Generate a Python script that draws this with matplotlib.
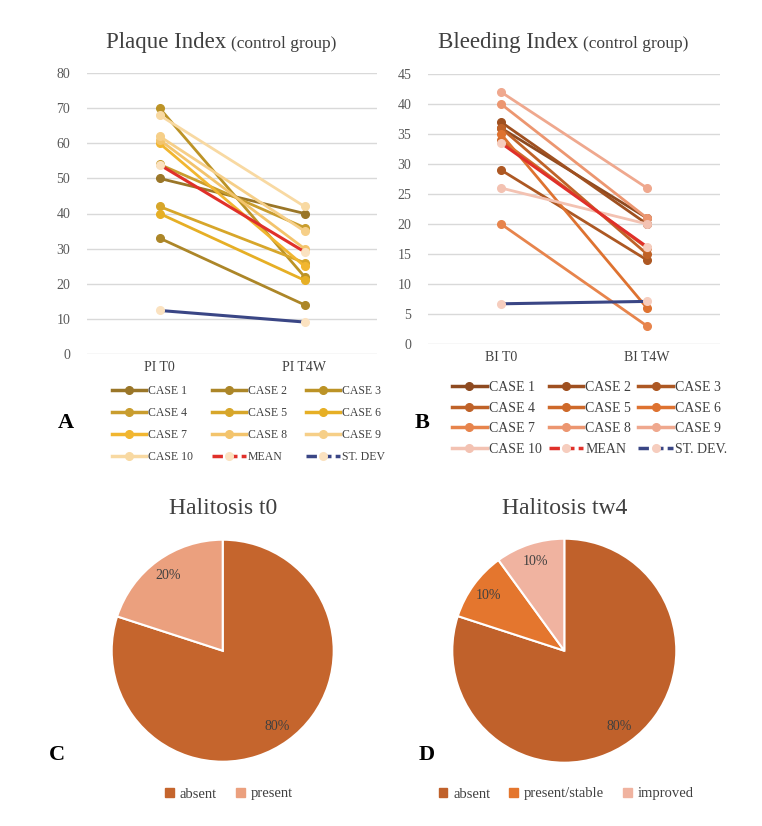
import matplotlib.pyplot as plt
from matplotlib.lines import Line2D
from matplotlib.patches import Patch

plt.rcParams['font.family'] = ['Liberation Serif', 'DejaVu Serif']

# ---- data ----
time_pi = ['PI T0', 'PI T4W']
time_bi = ['BI T0', 'BI T4W']
case_names = ['CASE %d' % i for i in range(1, 11)]

pi_cases = [[50, 40], [33, 14], [70, 22], [54, 36], [42, 26],
            [40, 21], [60, 25], [61, 30], [62, 35], [68, 42]]
pi_mean = [53.9, 29.1]
pi_sd = [12.4, 9.1]

bi_cases = [[36, 21], [37, 20], [29, 14], [36, 15], [34, 16],
            [35, 6], [20, 3], [40, 21], [42, 26], [26, 20]]
bi_mean = [33.5, 16.2]
bi_sd = [6.7, 7.1]

hal_t0_labels = ['absent', 'present']
hal_t0_vals = [80, 20]
hal_t4_labels = ['absent', 'present/stable', 'improved']
hal_t4_vals = [80, 10, 10]

# ---- styles ----
pi_colors = ['#9A7628', '#AC8628', '#BC9326', '#C99D2E', '#D7A62A',
             '#E6AF25', '#F1B630', '#F3C46C', '#F6CF88', '#F8D9A2']
bi_colors = ['#8E4A20', '#9F5020', '#AD5823', '#BF6228', '#CE692A',
             '#DE7230', '#E7844C', '#EC9670', '#EFA88E', '#F3C2B2']
mean_c = '#E0302A'
sd_c = '#3A4685'
W, H = 762, 826
txt = '#404040'
grid_c = '#D9D9D9'

fig = plt.figure(figsize=(W / 100, H / 100), dpi=100)
renderer = fig.canvas.get_renderer()


def rect(l, t, r, b):
    return [l / W, 1 - b / H, (r - l) / W, (b - t) / H]


def line_panel(pos, cases, mean, sd, colors, cats, ylim, yticks, pale):
    ax = fig.add_axes(rect(*pos))
    x = [0, 1]
    for vals, c in zip(cases, colors):
        ax.plot(x, vals, color=c, lw=2, marker='o', ms=5.5, solid_capstyle='round')
    ax.plot(x, mean, color=mean_c, lw=2.2, marker='o', ms=5.5,
            mfc=pale, mec=pale)
    ax.plot(x, sd, color=sd_c, lw=2.2, marker='o', ms=5.5,
            mfc=pale, mec=pale)
    ax.set_xlim(-0.5, 1.5)
    ax.set_ylim(*ylim)
    ax.set_yticks(yticks)
    ax.set_xticks(x)
    ax.set_xticklabels(cats, fontsize=10, color=txt)
    ax.tick_params(axis='y', length=0, pad=12, labelsize=10, labelcolor='#595959')
    ax.tick_params(axis='x', length=0, pad=5)
    for s in ax.spines.values():
        s.set_visible(False)
    ax.grid(axis='y', color=grid_c, lw=1)
    ax.set_axisbelow(True)
    return ax


line_panel((87, 73, 377, 354), pi_cases, pi_mean, pi_sd, pi_colors, time_pi,
           (0, 80), range(0, 81, 10), '#FBE2C0')
line_panel((428, 74, 720, 344), bi_cases, bi_mean, bi_sd, bi_colors, time_bi,
           (0, 45), range(0, 46, 5), '#F6CDBE')


def line_legend(colors, pale, sd_label, anchor, fs, hl, spacing, lsp):
    hs = [Line2D([], [], color=c, lw=2.5, marker='o', ms=5.5) for c in colors]
    hs.append(Line2D([], [], color=mean_c, lw=2.5, ls=(0, (3, 1.2)), marker='o', ms=5.5,
                     mfc=pale, mec=pale))
    hs.append(Line2D([], [], color=sd_c, lw=2.5, ls=(0, (3, 1.2)), marker='o', ms=5.5,
                     mfc=pale, mec=pale))
    labels = case_names + ['MEAN', sd_label]
    order = [0, 3, 6, 9, 1, 4, 7, 10, 2, 5, 8, 11]
    fig.legend([hs[i] for i in order], [labels[i] for i in order], ncol=3,
               loc='upper left', bbox_to_anchor=(anchor[0] / W, 1 - anchor[1] / H),
               frameon=False, fontsize=fs, handlelength=hl, handletextpad=0.15,
               columnspacing=spacing, labelspacing=lsp, borderpad=0,
               borderaxespad=0, labelcolor=txt)


line_legend(pi_colors, '#FBE2C0', 'ST. DEV', (112, 385), 8.5, 2.9, 1.6, 0.85)
line_legend(bi_colors, '#F6CDBE', 'ST. DEV.', (452, 381), 10, 2.5, 0.5, 0.55)


def two_part_title(x, y, main, sub):
    t = fig.text(x / W, 1 - y / H, main, fontsize=16.5, color=txt, ha='left')
    ext = t.get_window_extent(renderer)
    fig.text((ext.x1 + 5) / W, 1 - y / H, sub, fontsize=12.5, color=txt, ha='left')


two_part_title(106, 48, 'Plaque Index', '(control group)')
two_part_title(438, 48, 'Bleeding Index', '(control group)')


def pie_panel(cx, cy, r, vals, labels, colors, title, leg_x, fs):
    ax = fig.add_axes(rect(cx - r, cy - r, cx + r, cy + r))
    ax.pie(vals, colors=colors, startangle=90, counterclock=False,
           autopct='%d%%', pctdistance=0.84,
           wedgeprops=dict(edgecolor='white', linewidth=1.5),
           textprops=dict(fontsize=10, color=txt))
    ax.set_xlim(-1, 1)
    ax.set_ylim(-1, 1)
    fig.text(cx / W, 1 - 514 / H, title, fontsize=17, color=txt, ha='center')
    hs = [Patch(color=c) for c in colors]
    fig.legend(hs, labels, ncol=len(labels), loc='center',
               bbox_to_anchor=(leg_x / W, 1 - 794 / H), frameon=False,
               fontsize=fs, handlelength=0.6, handleheight=0.6,
               handletextpad=0.4, columnspacing=1.3, labelcolor=txt)


pie_panel(222.7, 650.7, 111, hal_t0_vals, hal_t0_labels,
          ['#C5652D', '#EBA07E'], 'Halitosis t0', 229, 10.5)
pie_panel(564.3, 650.7, 112, hal_t4_vals, hal_t4_labels,
          ['#C0612B', '#E4762E', '#F0B3A0'], 'Halitosis tw4', 566, 10.5)

for lab, x, y in [('A', 66, 423), ('B', 422, 423), ('C', 57, 755), ('D', 427, 755)]:
    fig.text(x / W, 1 - y / H, lab, fontsize=16, fontweight='bold',
             color='black', ha='center', va='center')

fig.savefig('out.png', dpi=100, facecolor='white')
